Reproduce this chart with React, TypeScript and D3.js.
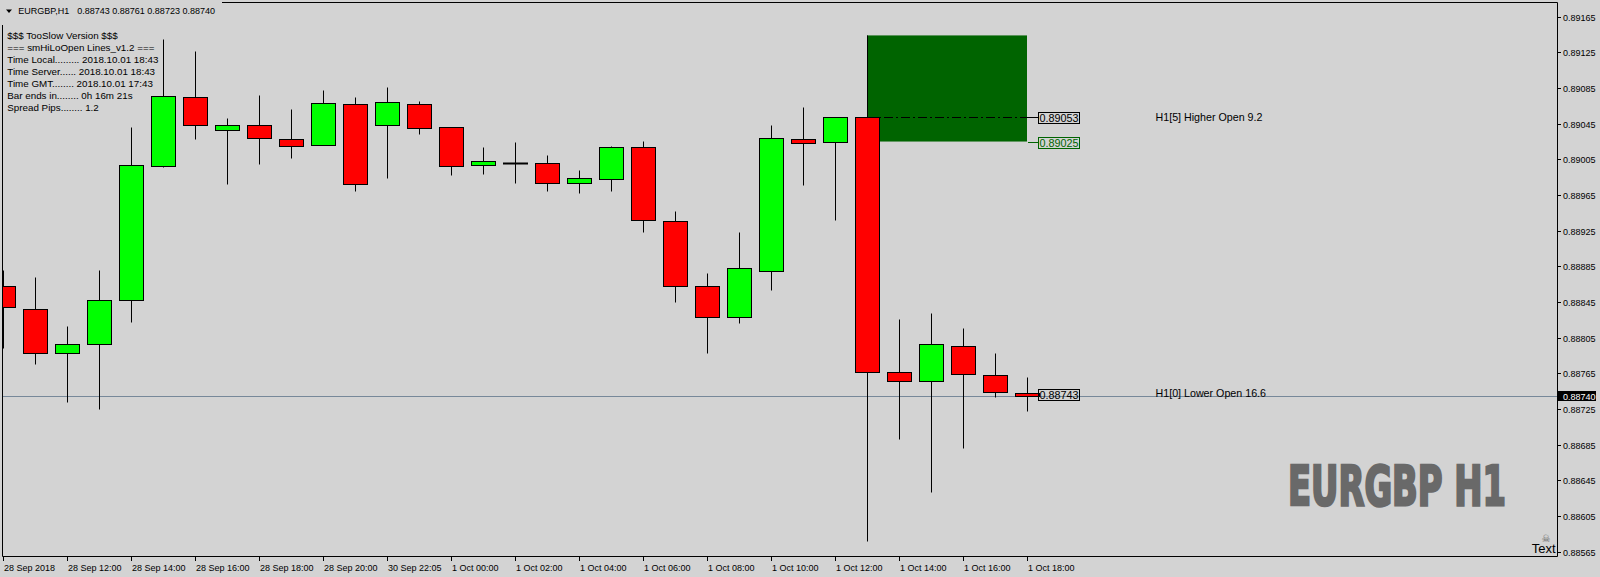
import React, { useLayoutEffect, useRef, useState } from 'react';
import * as d3 from 'd3';

// ---- data ----
const opens = [0.88863, 0.88837, 0.88788, 0.88798, 0.88847, 0.88998, 0.89075, 0.89038, 0.89043, 0.89028, 0.89021, 0.89067, 0.89043, 0.89067, 0.89041, 0.88999, 0.89001, 0.89001, 0.88979, 0.88983, 0.89019, 0.88936, 0.88863, 0.88828, 0.88880, 0.89028, 0.89024, 0.89053, 0.88767, 0.88756, 0.88796, 0.88763, 0.88743];
const highs = [0.88881, 0.88873, 0.88818, 0.88881, 0.89041, 0.89140, 0.89127, 0.89051, 0.89077, 0.89062, 0.89083, 0.89075, 0.89086, 0.89071, 0.89041, 0.89019, 0.89025, 0.89010, 0.88993, 0.89020, 0.89026, 0.88947, 0.88878, 0.88924, 0.89044, 0.89064, 0.89052, 0.89144, 0.88826, 0.88833, 0.88816, 0.88788, 0.88761];
const lows = [0.88793, 0.88776, 0.88733, 0.88725, 0.88823, 0.88997, 0.89028, 0.88977, 0.89000, 0.89006, 0.89021, 0.88970, 0.88984, 0.89034, 0.88988, 0.88989, 0.88978, 0.88970, 0.88967, 0.88969, 0.88923, 0.88845, 0.88788, 0.88822, 0.88859, 0.88976, 0.88937, 0.88577, 0.88691, 0.88632, 0.88681, 0.88738, 0.88723];
const closes = [0.88839, 0.88788, 0.88798, 0.88847, 0.88999, 0.89076, 0.89043, 0.89043, 0.89029, 0.89020, 0.89068, 0.88977, 0.89069, 0.89040, 0.88998, 0.89003, 0.89001, 0.88979, 0.88984, 0.89019, 0.88937, 0.88863, 0.88828, 0.88883, 0.89029, 0.89023, 0.89052, 0.88767, 0.88756, 0.88798, 0.88764, 0.88744, 0.88740];

const timeLabels = ['28 Sep 2018', '28 Sep 12:00', '28 Sep 14:00', '28 Sep 16:00', '28 Sep 18:00', '28 Sep 20:00', '30 Sep 22:05', '1 Oct 00:00', '1 Oct 02:00', '1 Oct 04:00', '1 Oct 06:00', '1 Oct 08:00', '1 Oct 10:00', '1 Oct 12:00', '1 Oct 14:00', '1 Oct 16:00', '1 Oct 18:00'];
const timeLabelBars = [0, 2, 4, 6, 8, 10, 12, 14, 16, 18, 20, 22, 24, 26, 28, 30, 32];

const priceTicks = [0.89165, 0.89125, 0.89085, 0.89045, 0.89005, 0.88965, 0.88925, 0.88885, 0.88845, 0.88805, 0.88765, 0.88725, 0.88685, 0.88645, 0.88605, 0.88565];

const headerSymbol = 'EURGBP,H1';
const headerValues = '0.88743 0.88761 0.88723 0.88740';
const infoLines = [
  '$$$ TooSlow Version $$$',
  '=== smHiLoOpen Lines_v1.2 ===',
  'Time Local......... 2018.10.01 18:43',
  'Time Server...... 2018.10.01 18:43',
  'Time GMT........ 2018.10.01 17:43',
  'Bar ends in........ 0h 16m 21s',
  'Spread Pips........ 1.2',
];

const bidPrice = 0.8874;
const higherOpenPrice = 0.89053;
const higherOpenBar = 27;
const higherOpenText = 'H1[5] Higher Open 9.2';
const lowerOpenPrice = 0.88743;
const lowerOpenText = 'H1[0] Lower Open 16.6';
const zoneTop = 0.89144;
const zoneBottom = 0.89025;
const zoneStartBar = 27;
const zoneEndBar = 32;
const watermark = 'EURGBP H1';

// ---- layout ----
const W = 1600;
const H = 577;
const L = 2.5, R = 1557.5, T = 2.5, B = 556.5;
const BG = '#D3D3D3';
const FONT = '"Liberation Sans", Arial, sans-serif';
const WM_WIDTH = 218;

export default function App() {
  const x = d3.scaleLinear().domain([0, 32]).range([3, 1027]);
  const y = d3.scaleLinear().domain([0.88565, 0.89165]).range([551.7, 16.7]);
  const py = (v: number) => Math.round(y(v)) + 0.5;
  const fmt = d3.format('.5f');

  const wmRef = useRef<SVGTextElement>(null);
  const [wmScale, setWmScale] = useState(0.67);
  useLayoutEffect(() => {
    const el = wmRef.current;
    if (el) {
      const w = el.getComputedTextLength();
      if (w > 0) setWmScale(WM_WIDTH / w);
    }
  }, []);

  const labelBox = (price: number, text: string, color: string) => {
    const yc = y(price);
    return (
      <g>
        <line x1={1028} x2={1038} y1={Math.round(yc) + 0.5} y2={Math.round(yc) + 0.5} stroke={color} strokeWidth={1} />
        <rect x={1038.5} y={Math.round(yc - 4.3) + 0.5} width={41} height={11} fill="none" stroke={color} strokeWidth={1} />
        <text x={1039.5} y={Math.round(yc - 4.3) + 10} fontSize={10.8} fontFamily={FONT} fill={color}>{text}</text>
      </g>
    );
  };

  return (
    <svg width={W} height={H} style={{ position: 'absolute', left: 0, top: 0, display: 'block' }}>
      <defs>
        <clipPath id="plotClip">
          <rect x={3} y={3} width={1554} height={553} />
        </clipPath>
      </defs>
      <rect x={0} y={0} width={W} height={H} fill={BG} />

      {/* watermark */}
      <g transform={`translate(1288,505) scale(${wmScale},1)`}>
        <text ref={wmRef} x={0} y={0} fontSize={56} fontWeight="bold" fontFamily='"Liberation Sans Narrow", "DejaVu Sans Condensed", "Liberation Sans", sans-serif' fill="#696969" stroke="#696969" strokeWidth={2.6} strokeLinejoin="miter">{watermark}</text>
      </g>

      <g clipPath="url(#plotClip)">
        {/* zone rectangle */}
        <rect x={x(zoneStartBar)} y={y(zoneTop)} width={x(zoneEndBar) - x(zoneStartBar)} height={y(zoneBottom) - y(zoneTop)} fill="#006400" />
        {/* higher open dash-dot line */}
        <line x1={x(higherOpenBar)} x2={1028} y1={py(higherOpenPrice)} y2={py(higherOpenPrice)} stroke="#000" strokeWidth={1} strokeDasharray="9,3,2,3" />
        {/* bid line */}
        <line x1={3} x2={1557} y1={py(bidPrice)} y2={py(bidPrice)} stroke="#778899" strokeWidth={1} />
        {/* candles */}
        {opens.map((o, i) => {
          const c = closes[i];
          const cx = x(i);
          const top = py(Math.max(o, c));
          const bot = py(Math.min(o, c));
          const up = c > o;
          const doji = c === o;
          return (
            <g key={i}>
              <line x1={cx + 0.5} x2={cx + 0.5} y1={py(highs[i])} y2={py(lows[i])} stroke="#000" strokeWidth={1} />
              {doji ? (
                <line x1={cx - 12} x2={cx + 13} y1={top} y2={top} stroke="#000" strokeWidth={2} />
              ) : (
                <rect x={cx - 11.5} y={top} width={24} height={Math.max(bot - top, 1)} fill={up ? '#00FF00' : '#FF0000'} stroke="#000" strokeWidth={1} />
              )}
            </g>
          );
        })}
      </g>

      {/* frame */}
      <line x1={L} x2={R} y1={T} y2={T} stroke="#000" />
      <line x1={L} x2={R} y1={B} y2={B} stroke="#000" />
      <line x1={L} x2={L} y1={T} y2={B} stroke="#000" />
      <line x1={R} x2={R} y1={T} y2={B} stroke="#000" />

      {/* price axis */}
      {priceTicks.map((v) => (
        <g key={v}>
          <line x1={1558} x2={1561} y1={py(v)} y2={py(v)} stroke="#000" />
          <text x={1563} y={py(v) + 3.3} fontSize={9} fontFamily={FONT} fill="#000">{fmt(v)}</text>
        </g>
      ))}
      <rect x={1558} y={Math.round(y(bidPrice)) - 5} width={38} height={10} fill="#000" />
      <text x={1563} y={py(bidPrice) + 3.3} fontSize={9} fontFamily={FONT} fill="#fff">{fmt(bidPrice)}</text>

      {/* time axis */}
      {timeLabelBars.map((b, k) => (
        <g key={b}>
          <line x1={x(b) + 0.5} x2={x(b) + 0.5} y1={557} y2={561} stroke="#000" />
          <text x={x(b) + 1} y={570.5} fontSize={9} fontFamily={FONT} fill="#000">{timeLabels[k]}</text>
        </g>
      ))}

      {/* header */}
      <rect x={0} y={0} width={222} height={25} fill={BG} />
      <polygon points="6,9.5 12,9.5 9,13" fill="#000" />
      <text x={18.3} y={14} fontSize={9} fontFamily={FONT} fill="#000">{headerSymbol}</text>
      <text x={77.3} y={14} fontSize={9} fontFamily={FONT} fill="#000">{headerValues}</text>

      {infoLines.map((t, k) => (
        <text key={k} x={7.3} y={38.5 + k * 12} fontSize={9.8} fontFamily={FONT} fill="#000">{t}</text>
      ))}

      {/* open labels */}
      {labelBox(higherOpenPrice, fmt(higherOpenPrice), '#000')}
      {labelBox(zoneBottom, fmt(zoneBottom), '#006400')}
      {labelBox(lowerOpenPrice, fmt(lowerOpenPrice), '#000')}
      <text x={1155.5} y={y(higherOpenPrice) + 4} fontSize={10.7} fontFamily={FONT} fill="#000">{higherOpenText}</text>
      <text x={1155.5} y={y(lowerOpenPrice) + 4.3} fontSize={10.7} fontFamily={FONT} fill="#000">{lowerOpenText}</text>

      {/* bottom-right marker */}
      <text x={1546} y={542} fontSize={10} textAnchor="middle" fontFamily='"DejaVu Sans", sans-serif' fill="#606060">☠</text>
      <text x={1531.7} y={553} fontSize={13} fontFamily={FONT} fill="#000">Text</text>
    </svg>
  );
}
